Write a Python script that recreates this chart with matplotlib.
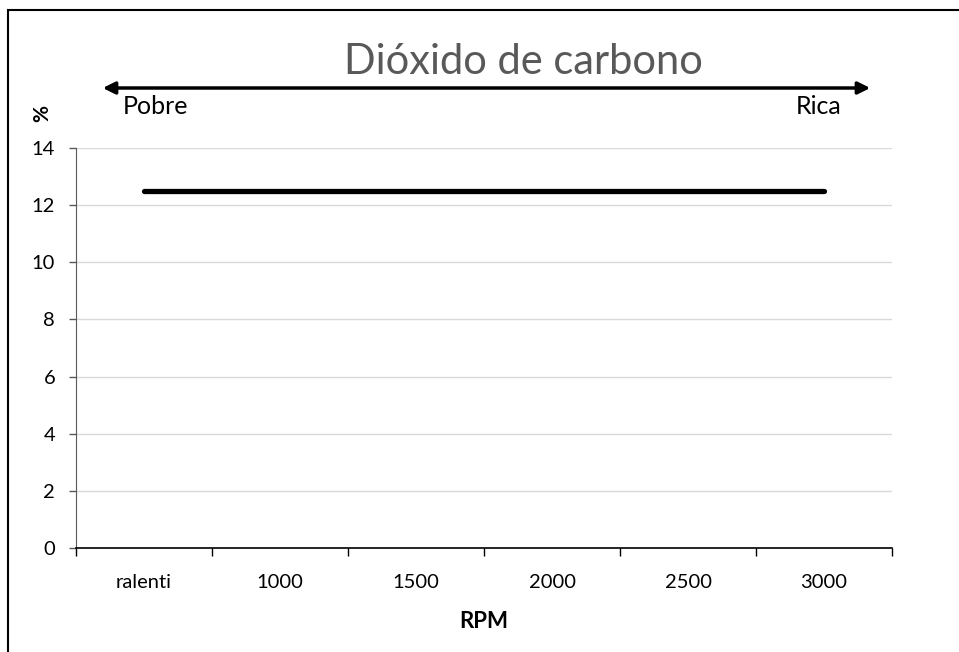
import matplotlib
matplotlib.use("Agg")
import matplotlib.pyplot as plt
from matplotlib.patches import Rectangle, FancyArrowPatch

plt.rcParams['font.family'] = ['Lato', 'DejaVu Sans']

categories = ["ralenti", "1000", "1500", "2000", "2500", "3000"]
co2_values = [12.5, 12.5, 12.5, 12.5, 12.5, 12.5]
y_ticks = [0, 2, 4, 6, 8, 10, 12, 14]

fig = plt.figure(figsize=(9.59, 6.52), dpi=100)
W, H = 959, 652

# frame around the chart area
fig.patches.append(Rectangle((8 / W, -0.1), 1.2, 1 - 10 / H + 0.1,
                             transform=fig.transFigure, fill=False,
                             edgecolor='black', linewidth=1.5))

ax = fig.add_axes([76 / W, 1 - 548 / H, (892 - 76) / W, (548 - 148) / H])
x = list(range(len(categories)))
ax.plot(x, co2_values, color='black', linewidth=3.8, solid_capstyle='round')

ax.set_xlim(-0.5, len(categories) - 0.5)
ax.set_ylim(0, 14)
ax.set_yticks(y_ticks)
ax.set_yticklabels([str(v) for v in y_ticks], fontsize=14.5)
ax.grid(axis='y', color='#d9d9d9', linewidth=1)
ax.set_axisbelow(True)

ax.set_xticks([i - 0.5 for i in range(len(categories) + 1)])
ax.set_xticklabels([])
ax.set_xticks(x, minor=True)
ax.set_xticklabels(categories, minor=True, fontsize=14.5)
ax.tick_params(axis='x', which='major', length=6, color='black', width=1)
ax.tick_params(axis='x', which='minor', length=0, pad=19)
ax.tick_params(axis='y', length=5, color='#595959', width=1, pad=10)

for s in ['top', 'right']:
    ax.spines[s].set_visible(False)
ax.spines['bottom'].set_color('black')
ax.spines['bottom'].set_linewidth(1.2)
ax.spines['left'].set_color('#595959')

ax.set_xlabel('RPM', fontsize=16, fontweight='bold', labelpad=14)

fig.text(523 / W, 1 - 62 / H, 'Dióxido de carbono', fontsize=30,
         color='#595959', ha='center', va='center')

arrow = FancyArrowPatch((100 / W, 1 - 88 / H), (873 / W, 1 - 88 / H),
                        transform=fig.transFigure, arrowstyle='<|-|>',
                        mutation_scale=18, color='black', linewidth=2.5)
fig.patches.append(arrow)
fig.text(123 / W, 1 - 106 / H, 'Pobre', fontsize=18, ha='left', va='center')
fig.text(841 / W, 1 - 106 / H, 'Rica', fontsize=18, ha='right', va='center')
fig.text(42 / W, 1 - 113 / H, '%', fontsize=15, fontweight='bold',
         rotation=90, ha='center', va='center')

fig.savefig('out.png', dpi=100)
